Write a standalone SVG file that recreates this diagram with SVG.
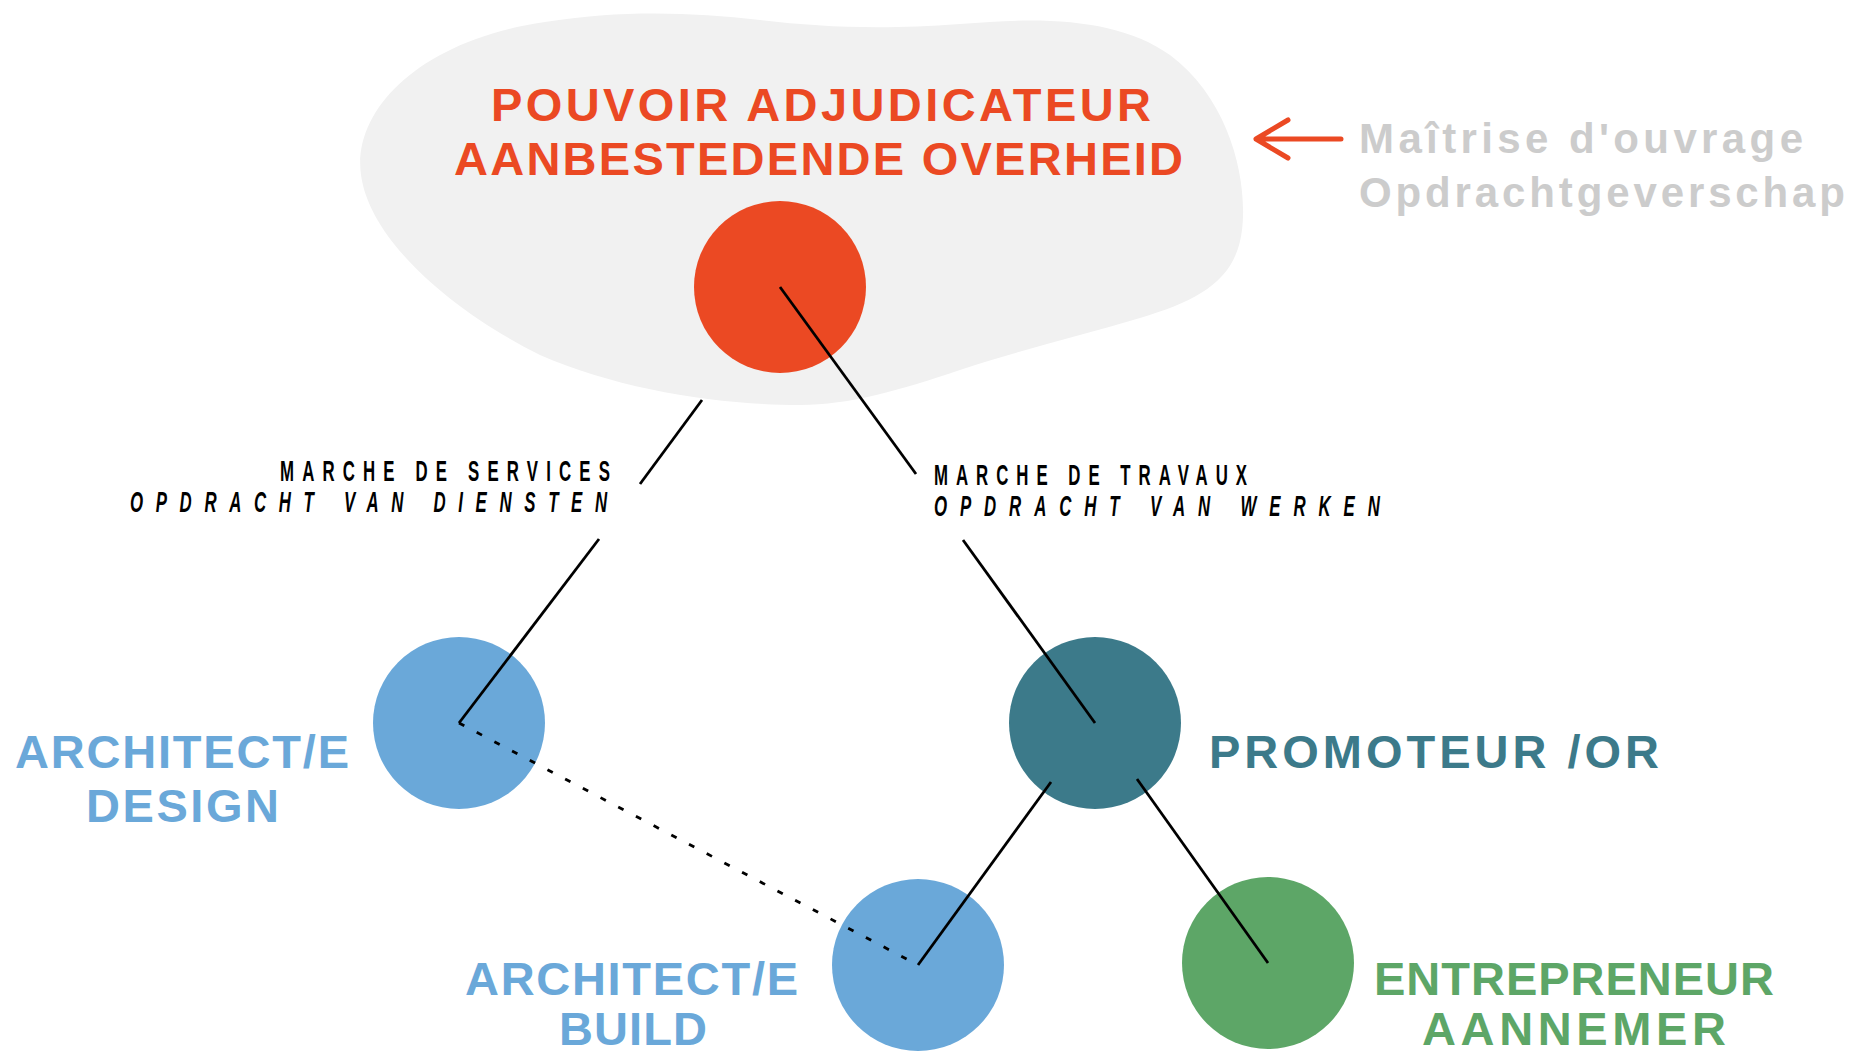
<svg xmlns="http://www.w3.org/2000/svg" width="1852" height="1053" viewBox="0 0 1852 1053">
<style>
.big{font-family:"Liberation Sans",Arial,sans-serif;font-weight:700;font-size:47px}
.sub{font-family:"Liberation Sans",Arial,sans-serif;font-weight:700;font-size:42px;fill:#cccccc}
.lab{font-family:"Liberation Sans",Arial,sans-serif;font-weight:700;font-size:30px;fill:#000}
.it{font-style:italic}
.red{fill:#eb4923}
.blue{fill:#6aa8d9}
.teal{fill:#3c7a8a}
.green{fill:#5da667}
.conn line{stroke:#000;stroke-width:2.8;fill:none}
.conn .dot{stroke-dasharray:6 14}
</style>
<rect width="1852" height="1053" fill="#ffffff"/>
<g id="blob">
<path d="M361,175 C352,110 420,40 545,22 C620,10 690,12 760,20 C820,27 880,30 960,24 C1050,16 1120,20 1170,55 C1230,100 1248,180 1242,230 C1236,280 1200,300 1140,318 C1080,336 1020,350 960,370 C900,390 850,405 800,405 C720,405 620,390 540,355 C450,310 370,240 361,175 Z" fill="#f1f1f1"/>
</g>
<g id="node-pouvoir">
<circle cx="780" cy="287" r="86" class="red"/>
<text class="big red" x="491" y="121" textLength="660" lengthAdjust="spacing">POUVOIR ADJUDICATEUR</text>
<text class="big red" x="454" y="175" textLength="729" lengthAdjust="spacing">AANBESTEDENDE OVERHEID</text>
</g>
<g id="note-maitrise">
<path d="M1341,139 H1256 M1288,120 L1256,139 L1288,158" fill="none" stroke="#eb4923" stroke-width="5" stroke-linecap="round" stroke-linejoin="round"/>
<text class="sub" x="1359" y="153" textLength="444" lengthAdjust="spacing">Maîtrise d'ouvrage</text>
<text class="sub" x="1359" y="207" textLength="486" lengthAdjust="spacing">Opdrachtgeverschap</text>
</g>
<g id="node-design">
<circle cx="459" cy="723" r="86" class="blue"/>
<text class="big blue" x="15" y="768" textLength="334" lengthAdjust="spacing">ARCHITECT/E</text>
<text class="big blue" x="86" y="822" textLength="193" lengthAdjust="spacing">DESIGN</text>
</g>
<g id="node-promoteur">
<circle cx="1095" cy="723" r="86" class="teal"/>
<text class="big teal" x="1209" y="768" textLength="450" lengthAdjust="spacing">PROMOTEUR /OR</text>
</g>
<g id="node-build">
<circle cx="918" cy="965" r="86" class="blue"/>
<text class="big blue" x="465" y="995" textLength="333" lengthAdjust="spacing">ARCHITECT/E</text>
<text class="big blue" x="559" y="1045" textLength="148" lengthAdjust="spacing">BUILD</text>
</g>
<g id="node-entrepreneur">
<circle cx="1268" cy="963" r="86" class="green"/>
<text class="big green" x="1374" y="995" textLength="400" lengthAdjust="spacing">ENTREPRENEUR</text>
<text class="big green" x="1422" y="1045" textLength="304" lengthAdjust="spacing">AANNEMER</text>
</g>
<g id="connectors" class="conn">
<line x1="702" y1="400" x2="640" y2="484"/>
<line x1="599" y1="539" x2="459" y2="723"/>
<line x1="780" y1="287" x2="916" y2="474"/>
<line x1="963" y1="540" x2="1095" y2="723"/>
<line x1="1051" y1="782" x2="918" y2="965"/>
<line x1="1137" y1="779" x2="1268" y2="963"/>
<line class="dot" x1="459" y1="723" x2="918" y2="965"/>
</g>
<g id="labels">
<text class="lab" transform="translate(280,481) scale(0.56,1)" x="0" y="0" textLength="589" lengthAdjust="spacing">MARCHE DE SERVICES</text>
<text class="lab it" transform="translate(130,512) scale(0.56,1)" x="0" y="0" textLength="852" lengthAdjust="spacing">OPDRACHT VAN DIENSTEN</text>
<text class="lab" transform="translate(934,485) scale(0.56,1)" x="0" y="0" textLength="559" lengthAdjust="spacing">MARCHE DE TRAVAUX</text>
<text class="lab it" transform="translate(934,516) scale(0.56,1)" x="0" y="0" textLength="796" lengthAdjust="spacing">OPDRACHT VAN WERKEN</text>
</g>
</svg>
